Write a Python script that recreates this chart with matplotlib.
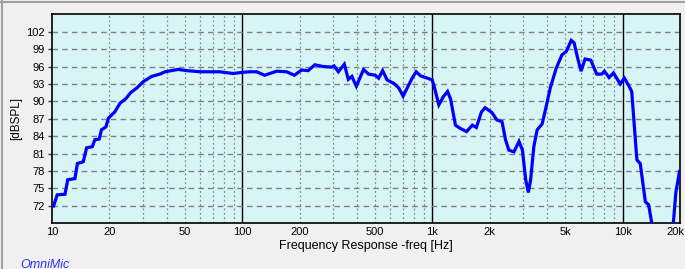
import numpy as np
import matplotlib
matplotlib.use("Agg")
import matplotlib.pyplot as plt
import matplotlib.transforms as mtransforms
from matplotlib.ticker import FixedLocator, NullFormatter
from matplotlib.lines import Line2D

freq_hz = [10.2, 10.65, 11.7, 12.1, 13.2, 13.6, 14.6, 15.2, 16.3, 16.8, 17.7, 18.2, 19.2,
           19.8, 21.4, 22.8, 24.5, 25.9, 27.9, 30.2, 33.4, 36.9, 39.3, 46, 51, 60, 76, 89.7,
           100, 110, 119, 131, 152, 171, 188, 205, 222, 241, 266, 295, 304, 320, 344, 361,
           377, 398, 434, 461, 500, 521, 547, 577, 626, 665, 701, 736, 782, 821, 865, 939,
           996, 1020, 1080, 1140, 1200, 1245, 1320, 1390, 1510, 1620, 1700, 1810, 1890, 2050,
           2180, 2320, 2420, 2520, 2680, 2850, 2970, 3090, 3190, 3280, 3410, 3550, 3770, 3920,
           4160, 4470, 4790, 5050, 5360, 5550, 5800, 6040, 6340, 6790, 7300, 7760, 8010, 8480,
           8940, 9700, 10200, 10720, 11150, 11870, 12360, 13150, 13680, 14130, 15000, 17500,
           18500, 19020, 19880]
spl_db = [72.0, 73.9, 74.0, 76.5, 76.7, 79.3, 79.6, 82.0, 82.2, 83.4, 83.5, 85.1, 85.6,
          87.1, 88.2, 89.7, 90.5, 91.5, 92.3, 93.4, 94.3, 94.7, 95.1, 95.5, 95.3, 95.1, 95.1, 94.8,
          95.0, 95.1, 95.1, 94.5, 95.2, 95.1, 94.5, 95.4, 95.3, 96.3, 96.0, 95.9, 96.1, 95.1, 96.4, 93.8,
          94.3, 92.6, 95.5, 94.7, 94.5, 94.0, 95.3, 93.7, 93.1, 92.3, 90.9, 92.3, 94.0, 95.1, 94.4, 94.0,
          93.7, 92.6, 89.4, 90.8, 91.7, 90.4, 85.9, 85.4, 84.8, 85.9, 85.5, 88.2, 88.9, 88.1,
          86.8, 86.5, 83.4, 81.6, 81.3, 83.1, 81.6, 76.5, 74.3, 76.5, 82.2, 85.1, 86.1, 88.5,
          92.3, 95.7, 98.0, 98.6, 100.5, 100.1, 97.4, 95.2, 97.3, 97.1, 94.7, 94.7, 95.2, 94.1,
          94.9, 93.0, 94.0, 92.8, 91.7, 79.9, 79.3, 72.7, 72.2, 69.5, 64.0, 64.0,
          69.5, 74.3, 77.9]

x_ticks = [10, 20, 50, 100, 200, 500, 1000, 2000, 5000, 10000, 20000]
x_labels = ["10", "20", "50", "100", "200", "500", "1k", "2k", "5k", "10k", "20k"]
y_ticks = [72, 75, 78, 81, 84, 87, 90, 93, 96, 99, 102]
minor_x = [m * d for d in (10, 100, 1000) for m in range(2, 10)] + [20000]
decade_lines = [100, 1000, 10000]

plt.rcParams['font.family'] = ['Liberation Sans', 'DejaVu Sans']
fig = plt.figure(figsize=(6.85, 2.69), dpi=100, facecolor='#F0F0F0')
W, H = 685, 269
ax = fig.add_axes([52 / W, 1 - 223 / H, (680 - 52) / W, (223 - 14) / H])
ax.set_facecolor('#D8F5F5')
ax.set_xscale('log')
ax.set_xlim(10, 20000)
ax.set_ylim(69.05, 105.05)

for m in minor_x:
    if m not in decade_lines:
        ax.axvline(m, color='#8A8A8A', lw=0.9, ls=(0, (1.5, 2)), zorder=1)
for d in decade_lines:
    ax.axvline(d, color='black', lw=1.0, zorder=1)
for yv in y_ticks:
    ax.axhline(yv, color='#808080', lw=1.0, ls=(0, (4, 3)), zorder=1)

ax.plot(freq_hz, spl_db, color='#0000FF', lw=2.3, zorder=3, solid_joinstyle='miter')

ax.xaxis.set_major_locator(FixedLocator(x_ticks))
ax.set_xticklabels(x_labels)
ax.xaxis.set_minor_locator(FixedLocator([]))
ax.xaxis.set_minor_formatter(NullFormatter())
ax.set_yticks(y_ticks)
ax.tick_params(axis='x', length=0, pad=3, labelsize=8, colors='black')
ax.tick_params(axis='y', length=3, width=1, color='#404040', pad=2, labelsize=8)
for s in ax.spines.values():
    s.set_color('black')
    s.set_linewidth(1.2)

# shift the last tick label left so it fits inside the figure, as in the reference
last = ax.get_xticklabels()[-1]
last.set_transform(last.get_transform() + mtransforms.ScaledTranslation(-5 / 100, 0, fig.dpi_scale_trans))

ax.set_xlabel('Frequency Response -freq [Hz]', fontsize=9, labelpad=2)
ax.set_ylabel('[dBSPL]', fontsize=8.5)
ax.yaxis.set_label_coords((22 - 52) / (680 - 52), 0.5)

fig.text(20 / W, 1 - 268 / H, 'OmniMic', color='#3030F0', fontsize=9, style='italic',
         va='baseline', ha='left')
fig.add_artist(Line2D([0, 1], [1 - 1.5 / H, 1 - 1.5 / H], color='#A0A0A0', lw=1.5,
                      transform=fig.transFigure))
fig.add_artist(Line2D([1.5 / W, 1.5 / W], [0, 1], color='#A0A0A0', lw=1.5,
                      transform=fig.transFigure))

fig.savefig('out.png', dpi=100, facecolor=fig.get_facecolor())
